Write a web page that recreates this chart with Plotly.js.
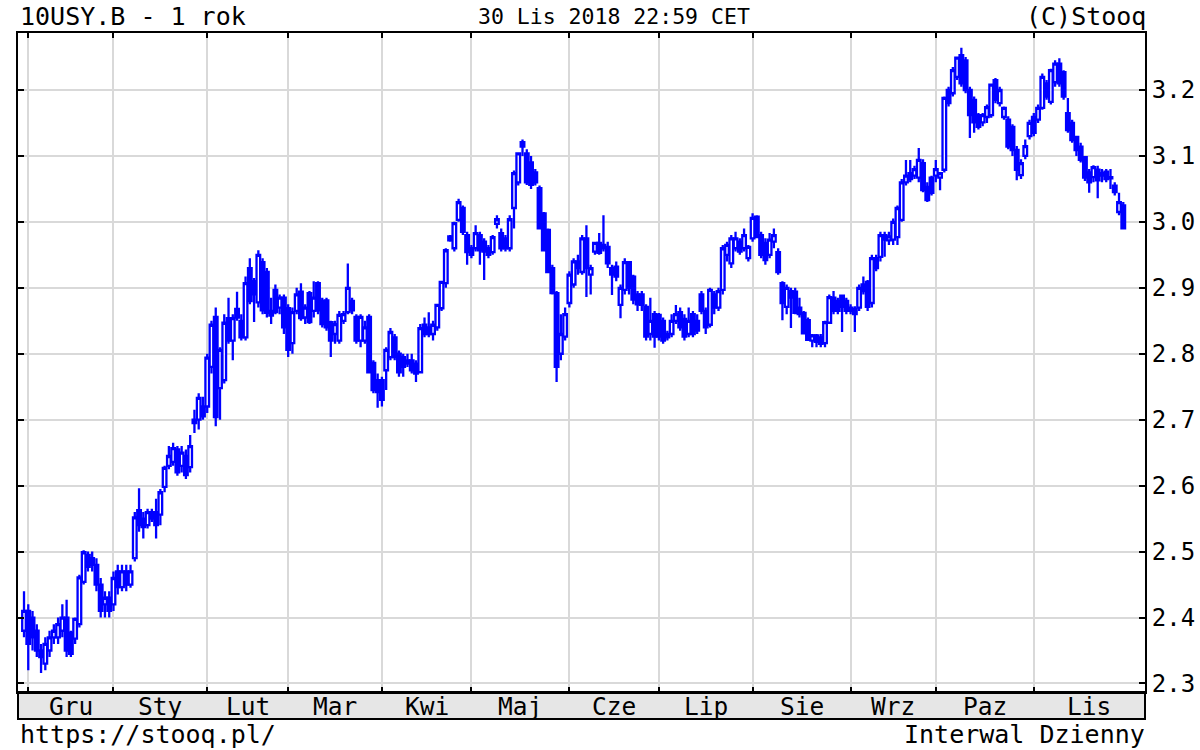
<!DOCTYPE html>
<html>
<head>
<meta charset="utf-8">
<script src="https://cdn.plot.ly/plotly-3.0.1.min.js"></script>
<style>
  html, body { margin: 0; padding: 0; background: #ffffff; }
  #chart { width: 1200px; height: 750px; }
</style>
</head>
<body>
<div id="chart"></div>
<script>
// ---- trading days (categories) ----
const dates = [
  '2017-11-30',
  '2017-12-01','2017-12-04','2017-12-05','2017-12-06','2017-12-07','2017-12-08','2017-12-11','2017-12-12','2017-12-13','2017-12-14','2017-12-15','2017-12-18','2017-12-19','2017-12-20','2017-12-21','2017-12-22','2017-12-26','2017-12-27','2017-12-28','2017-12-29',
  '2018-01-02','2018-01-03','2018-01-04','2018-01-05','2018-01-08','2018-01-09','2018-01-10','2018-01-11','2018-01-12','2018-01-15','2018-01-16','2018-01-17','2018-01-18','2018-01-19','2018-01-22','2018-01-23','2018-01-24','2018-01-25','2018-01-26','2018-01-29','2018-01-30','2018-01-31',
  '2018-02-01','2018-02-02','2018-02-05','2018-02-06','2018-02-07','2018-02-08','2018-02-09','2018-02-12','2018-02-13','2018-02-14','2018-02-15','2018-02-16','2018-02-20','2018-02-21','2018-02-22','2018-02-23','2018-02-26','2018-02-27','2018-02-28',
  '2018-03-01','2018-03-02','2018-03-05','2018-03-06','2018-03-07','2018-03-08','2018-03-09','2018-03-12','2018-03-13','2018-03-14','2018-03-15','2018-03-16','2018-03-19','2018-03-20','2018-03-21','2018-03-22','2018-03-23','2018-03-26','2018-03-27','2018-03-28','2018-03-29','2018-03-30',
  '2018-04-02','2018-04-03','2018-04-04','2018-04-05','2018-04-06','2018-04-09','2018-04-10','2018-04-11','2018-04-12','2018-04-13','2018-04-16','2018-04-17','2018-04-18','2018-04-19','2018-04-20','2018-04-23','2018-04-24','2018-04-25','2018-04-26','2018-04-27','2018-04-30',
  '2018-05-01','2018-05-02','2018-05-03','2018-05-04','2018-05-07','2018-05-08','2018-05-09','2018-05-10','2018-05-11','2018-05-14','2018-05-15','2018-05-16','2018-05-17','2018-05-18','2018-05-21','2018-05-22','2018-05-23','2018-05-24','2018-05-25','2018-05-28','2018-05-29','2018-05-30','2018-05-31',
  '2018-06-01','2018-06-04','2018-06-05','2018-06-06','2018-06-07','2018-06-08','2018-06-11','2018-06-12','2018-06-13','2018-06-14','2018-06-15','2018-06-18','2018-06-19','2018-06-20','2018-06-21','2018-06-22','2018-06-25','2018-06-26','2018-06-27','2018-06-28','2018-06-29',
  '2018-07-02','2018-07-03','2018-07-04','2018-07-05','2018-07-06','2018-07-09','2018-07-10','2018-07-11','2018-07-12','2018-07-13','2018-07-16','2018-07-17','2018-07-18','2018-07-19','2018-07-20','2018-07-23','2018-07-24','2018-07-25','2018-07-26','2018-07-27','2018-07-30','2018-07-31',
  '2018-08-01','2018-08-02','2018-08-03','2018-08-06','2018-08-07','2018-08-08','2018-08-09','2018-08-10','2018-08-13','2018-08-14','2018-08-15','2018-08-16','2018-08-17','2018-08-20','2018-08-21','2018-08-22','2018-08-23','2018-08-24','2018-08-27','2018-08-28','2018-08-29','2018-08-30','2018-08-31',
  '2018-09-03','2018-09-04','2018-09-05','2018-09-06','2018-09-07','2018-09-10','2018-09-11','2018-09-12','2018-09-13','2018-09-14','2018-09-17','2018-09-18','2018-09-19','2018-09-20','2018-09-21','2018-09-24','2018-09-25','2018-09-26','2018-09-27','2018-09-28',
  '2018-10-01','2018-10-02','2018-10-03','2018-10-04','2018-10-05','2018-10-08','2018-10-09','2018-10-10','2018-10-11','2018-10-12','2018-10-15','2018-10-16','2018-10-17','2018-10-18','2018-10-19','2018-10-22','2018-10-23','2018-10-24','2018-10-25','2018-10-26','2018-10-29','2018-10-30','2018-10-31',
  '2018-11-01','2018-11-02','2018-11-05','2018-11-06','2018-11-07','2018-11-08','2018-11-09','2018-11-12','2018-11-13','2018-11-14','2018-11-15','2018-11-16','2018-11-19','2018-11-20','2018-11-21','2018-11-22','2018-11-23','2018-11-26','2018-11-27','2018-11-28','2018-11-29','2018-11-30'
];
const closedDays = ['2017-12-25','2018-01-01','2018-02-19'];

// ---- OHLC series (yield, %) ----
const openV = [
  2.38,
  2.41,2.40,2.38,2.35,2.33,2.35,2.37,2.37,2.38,2.40,2.377,2.368,2.39,2.454,2.495,2.49,2.48,2.45,2.42,2.43,
  2.42,2.47,2.446,2.47,2.45,2.49,2.563,2.55,2.54,2.56,2.56,2.556,2.598,2.63,2.636,2.655,2.63,2.645,2.628,2.70,2.70,2.72,
  2.72,2.78,2.856,2.748,2.76,2.854,2.82,2.868,2.85,2.825,2.93,2.91,2.878,2.939,2.924,2.865,2.897,2.87,2.885,
  2.869,2.816,2.865,2.894,2.855,2.892,2.865,2.907,2.88,2.881,2.848,2.83,2.82,2.85,2.863,2.88,2.856,2.82,2.82,2.856,2.786,2.76,
  2.76,2.775,2.795,2.825,2.80,2.795,2.785,2.79,2.785,2.772,2.844,2.84,2.83,2.84,2.869,2.907,2.978,2.96,3.003,3.021,2.98,
  2.96,2.96,2.98,2.97,2.96,2.954,2.997,2.983,2.975,2.96,3.021,3.06,3.121,3.104,3.09,3.075,3.051,3.013,2.988,2.93,2.892,2.80,2.826,
  2.877,2.905,2.94,2.924,2.975,2.92,2.955,2.968,2.96,2.962,2.93,2.932,2.874,2.897,2.939,2.917,2.89,2.89,2.871,2.83,2.86,
  2.859,2.85,2.83,2.83,2.85,2.863,2.853,2.83,2.86,2.85,2.89,2.865,2.844,2.89,2.87,2.897,2.95,2.937,2.96,2.97,2.96,2.945,
  2.975,3.008,2.98,2.968,2.95,2.97,2.954,2.907,2.871,2.895,2.894,2.87,2.862,2.851,2.82,2.828,2.825,2.816,2.847,2.885,2.88,2.888,2.88,
  2.87,2.868,2.87,2.905,2.909,2.877,2.945,2.947,2.98,2.972,2.973,2.977,3.003,3.06,3.074,3.07,3.067,3.089,3.053,3.067,
  3.07,3.067,3.079,3.20,3.195,3.22,3.253,3.245,3.20,3.185,3.162,3.151,3.159,3.162,3.215,3.18,3.159,3.155,3.144,3.109,3.071,3.10,3.13,
  3.159,3.155,3.173,3.21,3.182,3.212,3.24,3.227,3.165,3.15,3.129,3.114,3.098,3.075,3.068,3.079,3.07,3.076,3.068,3.055,3.015,3.025
];
const highV = [
  2.44,
  2.42,2.41,2.39,2.36,2.37,2.38,2.39,2.40,2.42,2.427,2.38,2.40,2.465,2.502,2.50,2.50,2.49,2.46,2.44,2.44,
  2.47,2.48,2.48,2.48,2.48,2.56,2.596,2.56,2.565,2.565,2.58,2.595,2.63,2.66,2.665,2.66,2.66,2.655,2.677,2.715,2.74,2.735,
  2.80,2.85,2.87,2.81,2.86,2.885,2.86,2.894,2.86,2.917,2.945,2.915,2.957,2.945,2.93,2.885,2.905,2.89,2.89,
  2.875,2.87,2.90,2.907,2.875,2.895,2.91,2.91,2.885,2.885,2.85,2.85,2.865,2.865,2.937,2.885,2.86,2.86,2.85,2.86,2.79,2.77,
  2.765,2.81,2.839,2.83,2.805,2.80,2.80,2.80,2.79,2.845,2.855,2.863,2.85,2.875,2.91,2.96,2.98,3.0,3.035,3.025,2.985,
  2.965,2.995,2.985,2.975,2.965,2.98,3.01,2.99,2.98,3.01,3.078,3.105,3.125,3.11,3.10,3.08,3.055,3.015,2.99,2.935,2.895,2.86,2.87,
  2.925,2.945,2.95,2.98,2.995,2.935,2.97,2.983,3.01,2.97,2.935,2.94,2.905,2.945,2.94,2.92,2.895,2.895,2.875,2.885,2.865,
  2.862,2.855,2.835,2.86,2.874,2.87,2.86,2.87,2.865,2.86,2.895,2.87,2.90,2.895,2.90,2.965,2.97,2.98,2.985,2.975,2.99,2.965,
  3.013,3.01,2.985,2.975,2.983,2.99,2.96,2.91,2.905,2.90,2.90,2.885,2.865,2.855,2.83,2.83,2.83,2.85,2.89,2.895,2.885,2.89,2.885,
  2.875,2.872,2.905,2.917,2.912,2.95,2.95,2.985,2.985,2.985,3.005,3.025,3.065,3.094,3.094,3.085,3.112,3.095,3.06,3.07,
  3.094,3.075,3.19,3.205,3.235,3.25,3.264,3.25,3.205,3.19,3.165,3.165,3.178,3.21,3.218,3.205,3.175,3.16,3.148,3.115,3.095,3.125,3.155,
  3.165,3.178,3.225,3.215,3.232,3.245,3.248,3.23,3.188,3.155,3.13,3.12,3.10,3.08,3.086,3.085,3.08,3.08,3.08,3.06,3.044,3.03
];
const lowV = [
  2.37,
  2.32,2.35,2.34,2.316,2.32,2.34,2.36,2.36,2.37,2.34,2.34,2.36,2.385,2.45,2.47,2.47,2.44,2.40,2.40,2.40,
  2.41,2.435,2.44,2.44,2.445,2.485,2.53,2.52,2.535,2.545,2.52,2.54,2.59,2.625,2.63,2.615,2.62,2.61,2.62,2.68,2.685,2.70,
  2.71,2.77,2.69,2.70,2.755,2.815,2.79,2.85,2.82,2.82,2.875,2.848,2.87,2.86,2.855,2.845,2.86,2.86,2.83,
  2.795,2.80,2.86,2.85,2.845,2.845,2.855,2.86,2.84,2.835,2.795,2.815,2.815,2.845,2.86,2.86,2.815,2.81,2.815,2.77,2.74,2.718,
  2.72,2.745,2.79,2.79,2.765,2.765,2.78,2.77,2.757,2.77,2.825,2.825,2.82,2.835,2.865,2.90,2.97,2.955,3.0,2.98,2.935,
  2.945,2.955,2.935,2.912,2.945,2.95,2.99,2.955,2.955,2.955,2.99,3.055,3.10,3.056,3.05,3.055,2.99,2.957,2.924,2.89,2.757,2.79,2.82,
  2.87,2.90,2.92,2.92,2.886,2.89,2.95,2.95,2.955,2.93,2.889,2.91,2.854,2.89,2.89,2.875,2.865,2.865,2.82,2.82,2.809,
  2.82,2.815,2.82,2.825,2.845,2.835,2.82,2.825,2.825,2.83,2.86,2.83,2.84,2.86,2.865,2.89,2.94,2.93,2.955,2.95,2.955,2.94,
  2.97,2.975,2.945,2.935,2.945,2.96,2.92,2.851,2.86,2.839,2.86,2.855,2.83,2.82,2.81,2.81,2.81,2.81,2.845,2.86,2.86,2.833,2.86,
  2.86,2.833,2.865,2.89,2.865,2.87,2.925,2.94,2.947,2.965,2.965,2.965,3.0,3.055,3.06,3.065,3.06,3.045,3.03,3.04,
  3.06,3.048,3.075,3.175,3.19,3.215,3.205,3.195,3.127,3.135,3.14,3.145,3.15,3.158,3.18,3.175,3.155,3.11,3.10,3.063,3.065,3.095,3.125,
  3.13,3.15,3.17,3.185,3.178,3.205,3.205,3.185,3.135,3.12,3.10,3.09,3.062,3.044,3.06,3.036,3.06,3.06,3.05,3.04,3.01,2.99
];
const closeV = [
  2.41,
  2.36,2.37,2.35,2.34,2.36,2.37,2.38,2.39,2.40,2.35,2.345,2.398,2.461,2.499,2.477,2.48,2.45,2.41,2.43,2.41,
  2.46,2.446,2.47,2.45,2.47,2.552,2.54,2.537,2.56,2.55,2.54,2.59,2.627,2.645,2.657,2.62,2.65,2.616,2.66,2.695,2.733,2.705,
  2.794,2.844,2.704,2.806,2.847,2.82,2.854,2.855,2.825,2.907,2.88,2.89,2.95,2.866,2.862,2.858,2.863,2.885,2.84,
  2.806,2.863,2.89,2.854,2.87,2.848,2.885,2.866,2.845,2.84,2.82,2.845,2.859,2.86,2.90,2.866,2.82,2.856,2.84,2.772,2.745,2.742,
  2.73,2.806,2.833,2.795,2.772,2.78,2.79,2.775,2.77,2.839,2.83,2.83,2.844,2.874,2.909,2.957,2.972,2.998,3.03,2.985,2.954,
  2.95,2.983,2.957,2.955,2.95,2.977,3.004,2.96,2.96,3.004,3.074,3.104,3.114,3.06,3.056,3.06,2.99,2.957,2.924,2.892,2.78,2.83,2.86,
  2.92,2.94,2.93,2.975,2.93,2.93,2.968,2.953,2.965,2.937,2.92,2.917,2.90,2.939,2.90,2.882,2.875,2.874,2.826,2.85,2.826,
  2.826,2.82,2.825,2.85,2.86,2.84,2.826,2.85,2.83,2.835,2.865,2.84,2.897,2.87,2.895,2.96,2.965,2.975,2.975,2.955,2.98,2.962,
  3.006,2.977,2.95,2.942,2.973,2.98,2.924,2.877,2.90,2.885,2.862,2.86,2.831,2.821,2.828,2.818,2.815,2.848,2.886,2.865,2.865,2.871,2.865,
  2.865,2.86,2.90,2.895,2.871,2.945,2.93,2.98,2.973,2.978,3.0,3.021,3.06,3.07,3.065,3.08,3.094,3.048,3.033,3.044,
  3.08,3.074,3.188,3.18,3.23,3.249,3.21,3.20,3.162,3.151,3.144,3.162,3.174,3.208,3.185,3.20,3.173,3.114,3.109,3.079,3.089,3.115,3.15,
  3.135,3.173,3.22,3.19,3.23,3.24,3.21,3.19,3.139,3.124,3.109,3.094,3.067,3.06,3.083,3.063,3.074,3.065,3.066,3.045,3.03,2.99
];

// ---- tick labels ----
const monthLabels = ['Gru','Sty','Lut','Mar','Kwi','Maj','Cze','Lip','Sie','Wrz','Paz','Lis'];
const yTicks = [2.3, 2.4, 2.5, 2.6, 2.7, 2.8, 2.9, 3.0, 3.1, 3.2];
const yTickText = ['2.3','2.4','2.5','2.6','2.7','2.8','2.9','3.0','3.1','3.2'];

const titleLeft = '10USY.B - 1 rok';
const titleCenter = '30 Lis 2018 22:59 CET';
const titleRight = '(C)Stooq';
const footLeft = 'https://stooq.pl/';
const footRight = 'Interwal Dzienny';

// ---- derived: month gridlines at first trading day, labels centred between ----
const gridIdx = [];
for (let i = 1; i < dates.length; i++) {
  if (dates[i].slice(0, 7) !== dates[i - 1].slice(0, 7)) gridIdx.push(i);
}
const gridVals = gridIdx.map(i => dates[i]);
const rightSlot = dates.length - 1 + 5.1;
function slotToDate(s) {
  const f = Math.floor(s), frac = s - f;
  const base = Date.parse(dates[Math.min(f, dates.length - 1)] + 'T00:00:00Z');
  return new Date(base + frac * 86400000).toISOString().slice(0, 19).replace('T', ' ');
}
const labelVals = gridIdx.map((g, k) => {
  const next = (k + 1 < gridIdx.length) ? gridIdx[k + 1] : rightSlot;
  return slotToDate((g + next) / 2);
});

const FONT = 'DejaVu Sans Mono, monospace';
const BLUE = '#0000ff';

const trace = {
  type: 'candlestick',
  x: dates,
  open: openV, high: highV, low: lowV, close: closeV,
  increasing: { line: { color: BLUE, width: 2.3 }, fillcolor: '#ffffff' },
  decreasing: { line: { color: BLUE, width: 2.3 }, fillcolor: BLUE },
  whiskerwidth: 0,
  hoverinfo: 'skip'
};

const plotTop = 33, plotBottom = 692, plotLeft = 18, plotRight = 1145;
const ph = plotBottom - plotTop, pw = plotRight - plotLeft;
const py = y => (plotBottom - y) / ph;
const pxp = x => (x - plotLeft) / pw;

const txt = (text, x, y, xanchor, size, xref) => ({
  text, xref: xref || 'paper', yref: 'paper', x, y, xanchor, yanchor: 'middle',
  showarrow: false, font: { family: FONT, size, color: '#000000' }
});

const annotations = [
  txt(titleLeft, pxp(18), py(16), 'left', 25),
  txt(titleCenter, pxp(614), py(16), 'center', 21.5),
  txt(titleRight, pxp(1148), py(16), 'right', 25),
  txt(footLeft, pxp(18), py(734), 'left', 25),
  txt(footRight, pxp(1147), py(734), 'right', 25)
].concat(monthLabels.map((m, k) => txt(m, labelVals[k], py(706), 'center', 24.5, 'x')));

const layout = {
  width: 1200, height: 750,
  margin: { l: plotLeft, r: 1200 - plotRight, t: plotTop, b: 750 - plotBottom, pad: 0 },
  paper_bgcolor: '#ffffff', plot_bgcolor: '#ffffff',
  showlegend: false, hovermode: false, boxgap: 0, boxgroupgap: 0.15,
  font: { family: FONT, size: 24, color: '#000000' },
  xaxis: {
    type: 'date',
    range: ['2017-11-28 14:10', '2018-12-07 02:24'],
    rangebreaks: [{ bounds: ['sat', 'mon'] }, { values: closedDays }],
    rangeslider: { visible: false },
    tickmode: 'array', tickvals: labelVals, ticktext: monthLabels,
    ticks: '', showgrid: false, showticklabels: false,
    minor: {
      tickmode: 'array', tickvals: gridVals,
      showgrid: true, gridcolor: '#d9d9d9', gridwidth: 2,
      ticks: 'inside', ticklen: 5, tickwidth: 2, tickcolor: '#000000'
    },
    showline: true, linecolor: '#000000', linewidth: 2, mirror: 'ticks',
    zeroline: false, fixedrange: true
  },
  yaxis: {
    side: 'right',
    range: [2.2871, 3.2864],
    tickmode: 'array', tickvals: yTicks, ticktext: yTickText,
    ticks: 'inside', ticklen: 6, tickwidth: 2, tickcolor: '#000000',
    showgrid: true, gridcolor: '#d9d9d9', gridwidth: 2,
    showline: true, linecolor: '#000000', linewidth: 2, mirror: 'ticks',
    tickfont: { family: FONT, size: 24, color: '#000000' },
    zeroline: false, fixedrange: true
  },
  shapes: [{
    type: 'rect', xref: 'paper', yref: 'paper',
    x0: 0, x1: 1, y0: py(719), y1: 0,
    fillcolor: '#e6e6e6', line: { color: '#000000', width: 2 }, layer: 'below'
  }],
  annotations: annotations
};

Plotly.newPlot('chart', [trace], layout, { staticPlot: true, displayModeBar: false });
</script>
</body>
</html>
